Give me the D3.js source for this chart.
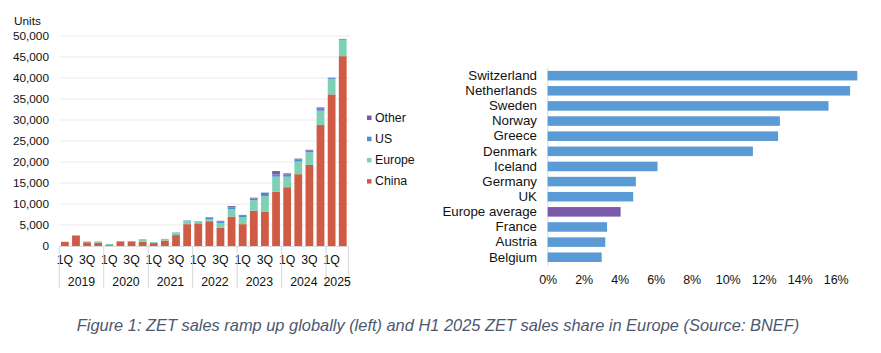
<!DOCTYPE html>
<html>
<head>
<meta charset="utf-8">
<script src="https://cdn.jsdelivr.net/npm/d3@7"></script>
<style>
  body { margin: 0; background: #fff; }
  text { font-family: "Liberation Sans", Arial, sans-serif; fill: #111; }
  .grid line { stroke: #ebebeb; }
  .sep { stroke: #d9d9d9; }
  .caption { font-style: italic; fill: #4d5870; }
</style>
</head>
<body>
<script>
// left chart: quarterly ZET sales by region
var quarters = ["2019Q1","2019Q2","2019Q3","2019Q4","2020Q1","2020Q2","2020Q3","2020Q4",
  "2021Q1","2021Q2","2021Q3","2021Q4","2022Q1","2022Q2","2022Q3","2022Q4",
  "2023Q1","2023Q2","2023Q3","2023Q4","2024Q1","2024Q2","2024Q3","2024Q4",
  "2025Q1","2025Q2"];
var years = ["2019","2020","2021","2022","2023","2024","2025"];
var china  = [1000,2500,900,800,200,1100,1100,1000,700,1300,2600,5200,5400,5900,4400,7000,5200,8400,8200,12900,14000,17100,19300,28800,36100,45200];
var europe = [0,100,200,300,300,100,100,500,200,400,500,800,400,500,1100,1800,1700,2500,3700,3600,2500,3000,3000,3400,3700,3900];
var us     = [0,0,0,0,0,0,0,100,0,0,100,100,100,400,400,400,300,400,500,550,500,500,400,500,300,200];
var other  = [0,0,0,0,0,0,0,0,0,0,0,0,0,50,100,300,200,200,300,800,300,200,200,300,0,0];
var yTicks = [0,5000,10000,15000,20000,25000,30000,35000,40000,45000,50000];

// right chart: H1 2025 ZET sales share
var countries = ["Switzerland","Netherlands","Sweden","Norway","Greece","Denmark","Iceland",
  "Germany","UK","Europe average","France","Austria","Belgium"];
var shares = [0.172,0.168,0.156,0.129,0.128,0.114,0.061,0.049,0.0475,0.0405,0.033,0.032,0.030];
var shareTicks = [0,0.02,0.04,0.06,0.08,0.10,0.12,0.14,0.16];

var seriesKeys = ["china","europe","us","other"],
    seriesNames = {china: "China", europe: "Europe", us: "US", other: "Other"},
    colors = {china: "#d05b45", europe: "#7fd1b6", us: "#4a8fd6", other: "#7a5aa8"};

var W = 881, H = 353;
var svg = d3.select("body").append("svg")
    .attr("width", W)
    .attr("height", H);

// ---- left stacked bars ----
var rows = quarters.map(function(q, i) {
  return {q: q, china: china[i], europe: europe[i], us: us[i], other: other[i]};
});
var stacked = d3.stack().keys(seriesKeys)(rows);

var x = d3.scaleBand().domain(quarters).range([59.3, 348.3])
    .paddingInner(0.3).paddingOuter(0.15);
var y = d3.scaleLinear().domain([0, 50000]).range([246, 36]);

svg.append("g").attr("class", "grid")
  .selectAll("line").data(yTicks.slice(1)).enter().append("line")
    .attr("x1", 59).attr("x2", 350)
    .attr("y1", d => y(d)).attr("y2", d => y(d));

var gy = svg.append("g")
    .attr("transform", "translate(52,0)")
    .call(d3.axisLeft(y).tickValues(yTicks).tickFormat(d3.format(",")).tickSize(0).tickPadding(3));
gy.select(".domain").remove();
gy.selectAll("text").style("font-size", "11.8px");

svg.append("text").attr("x", 14).attr("y", 25).style("font-size", "11.8px").text("Units");

svg.append("g").selectAll("g").data(stacked).enter().append("g")
    .attr("fill", d => colors[d.key])
  .selectAll("rect").data(d => d).enter().append("rect")
    .attr("x", d => x(d.data.q))
    .attr("width", x.bandwidth())
    .attr("y", d => y(d[1]))
    .attr("height", d => y(d[0]) - y(d[1]));

svg.append("line").attr("class", "sep")
    .attr("x1", 59).attr("x2", 349).attr("y1", y(0) + 0.5).attr("y2", y(0) + 0.5);

// quarter labels (1Q / 3Q only)
svg.append("g").selectAll("text")
    .data(quarters.filter(q => q.endsWith("Q1") || q.endsWith("Q3")))
    .enter().append("text")
    .attr("x", d => x(d) + x.bandwidth() / 2)
    .attr("y", 264)
    .attr("text-anchor", "middle")
    .style("font-size", "12.3px")
    .text(d => d.slice(5) + "Q");

// year separators and labels
var half = x.step() * x.paddingInner() / 2;
var yearSpan = years.map(function(yr) {
  var qs = quarters.filter(q => q.startsWith(yr));
  return {year: yr, x0: x(qs[0]) - half, x1: x(qs[qs.length - 1]) + x.bandwidth() + half};
});
var seps = yearSpan.map(d => d.x0).concat([yearSpan[yearSpan.length - 1].x1]);
svg.append("g").selectAll("line").data(seps).enter().append("line")
    .attr("class", "sep")
    .attr("x1", d => d).attr("x2", d => d)
    .attr("y1", 246).attr("y2", 288);
svg.append("g").selectAll("text").data(yearSpan).enter().append("text")
    .attr("x", d => (d.x0 + d.x1) / 2)
    .attr("y", 286)
    .attr("text-anchor", "middle")
    .style("font-size", "12.3px")
    .text(d => d.year);

// legend
var legend = svg.append("g").selectAll("g")
    .data(seriesKeys.slice().reverse()).enter().append("g")
    .attr("transform", (d, i) => `translate(367, ${114 + i * 21.2})`);
legend.append("rect").attr("width", 4.5).attr("height", 4.5).attr("y", 1.5)
    .attr("fill", d => colors[d]);
legend.append("text").attr("x", 8).attr("y", 7.5)
    .style("font-size", "12.3px")
    .text(d => seriesNames[d]);

// ---- right horizontal bars ----
var xs = d3.scaleLinear().domain([0, 0.16]).range([547.7, 835.7]);
var ys = d3.scaleBand().domain(countries).range([68.1, 264.8])
    .paddingInner(0.37).paddingOuter(0.185);

svg.append("line").attr("class", "sep")
    .attr("x1", xs(0)).attr("x2", xs(0)).attr("y1", 68).attr("y2", 266);

svg.append("g").selectAll("rect").data(countries).enter().append("rect")
    .attr("x", xs(0))
    .attr("y", d => ys(d))
    .attr("height", ys.bandwidth())
    .attr("width", (d, i) => xs(shares[i]) - xs(0))
    .attr("fill", d => d === "Europe average" ? "#7a5aa8" : "#5b9bd5");

var gys = svg.append("g")
    .attr("transform", "translate(537,0)")
    .call(d3.axisLeft(ys).tickSize(0).tickPadding(0));
gys.select(".domain").remove();
gys.selectAll("text").style("font-size", "13.3px");

var gxs = svg.append("g")
    .attr("transform", "translate(0,275)")
    .call(d3.axisBottom(xs).tickValues(shareTicks).tickFormat(d3.format(".0%")).tickSize(0).tickPadding(0));
gxs.select(".domain").remove();
gxs.selectAll("text").style("font-size", "12.5px");

// caption
svg.append("text").attr("class", "caption")
    .attr("x", 438).attr("y", 331)
    .attr("text-anchor", "middle")
    .style("font-size", "16.4px")
    .text("Figure 1: ZET sales ramp up globally (left) and H1 2025 ZET sales share in Europe (Source: BNEF)");
</script>
</body>
</html>
